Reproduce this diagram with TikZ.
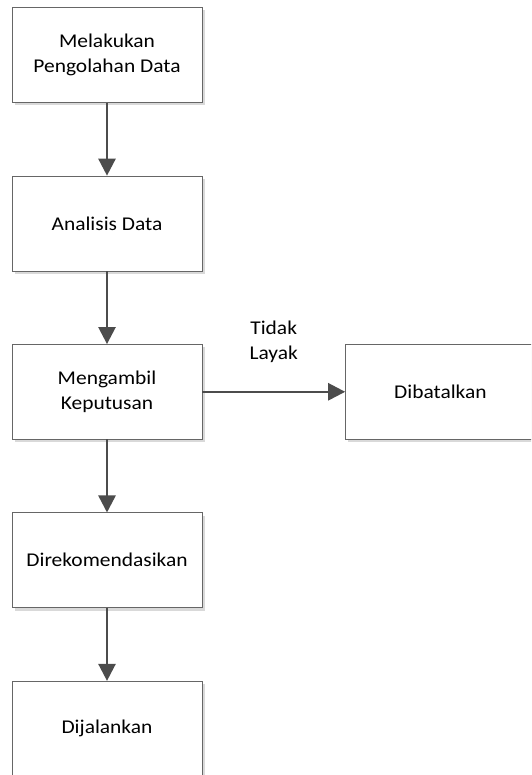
\documentclass[tikz,border=0pt]{standalone}
\usepackage{fontspec}
\setmainfont{Carlito}[FakeStretch=1.1]
\usetikzlibrary{arrows.meta, positioning, shadows}

\begin{document}
\begin{tikzpicture}[
    x=1pt, y=1pt,
    node distance=73pt and 143pt,
    every node/.style={font=\fontsize{19.5}{25}\selectfont},
    box/.style={rectangle, draw=black!60, fill=white, minimum width=190pt, minimum height=95pt, align=center, drop shadow={shadow xshift=3pt, shadow yshift=-3pt, fill=black!15, opacity=1}},
    arrow/.style={-{Triangle[length=17pt, width=17pt]}, line width=2.5pt, draw=black!70}
]
\useasboundingbox (0,0) rectangle (531,775);
\clip (0,0) rectangle (531,775);
\node[box] (olah) at (107,720) {Melakukan\\Pengolahan Data};
\node[box, below=of olah] (analisis) {Analisis Data};
\node[box, below=of analisis] (putusan) {Mengambil\\Keputusan};
\node[box, right=of putusan] (batal) {Dibatalkan};
\node[box, below=of putusan] (rekomendasi) {Direkomendasikan};
\node[box, below=of rekomendasi] (jalan) {Dijalankan};
\draw[arrow] (olah) -- (analisis);
\draw[arrow] (analisis) -- (putusan);
\draw[arrow] (putusan) -- node[above=25pt, align=center] {Tidak\\Layak} (batal);
\draw[arrow] (putusan) -- (rekomendasi);
\draw[arrow] (rekomendasi) -- (jalan);
\end{tikzpicture}
\end{document}
